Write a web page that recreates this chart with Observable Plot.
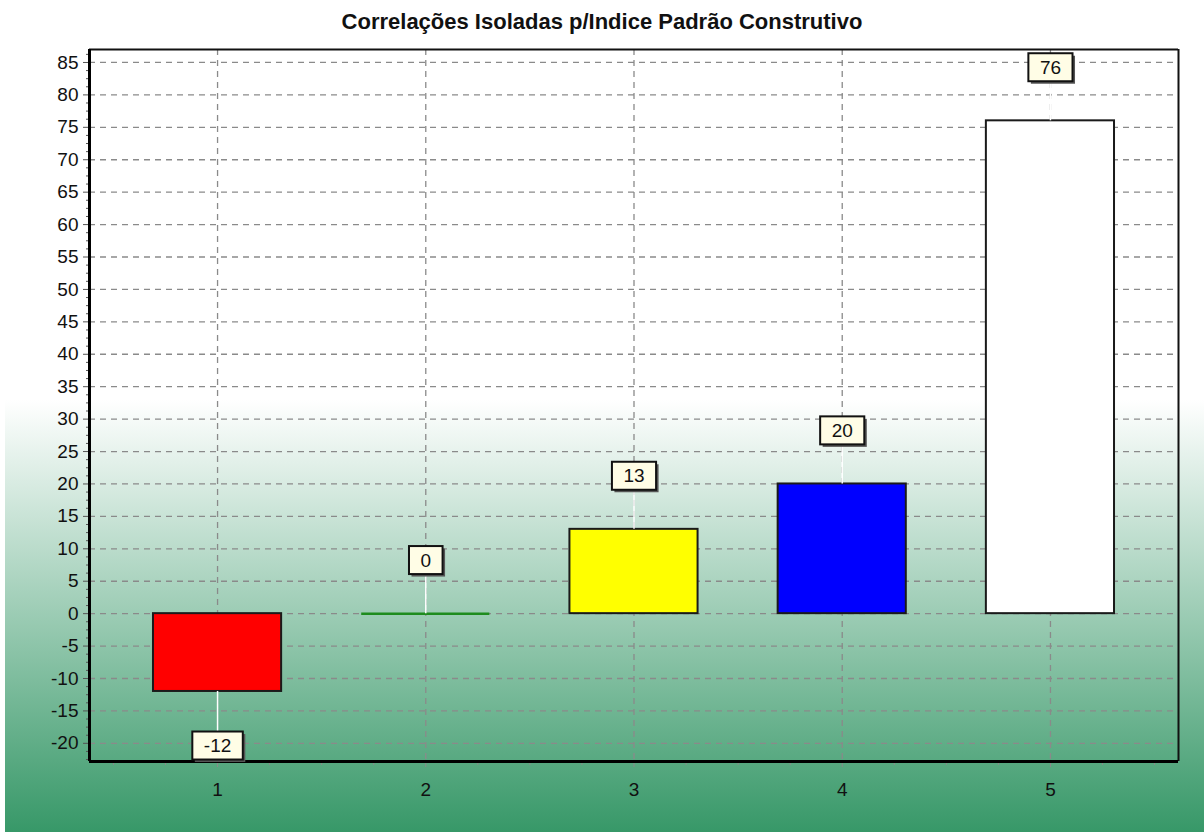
<!DOCTYPE html>
<html>
<head>
<meta charset="utf-8">
<script src="https://cdn.jsdelivr.net/npm/d3@7"></script>
<script src="https://cdn.jsdelivr.net/npm/@observablehq/plot@0.6"></script>
<style>
html, body { margin: 0; padding: 0; }
body {
  width: 1204px; height: 832px; overflow: hidden;
  font-family: "Liberation Sans", Arial, sans-serif;
  background:
    linear-gradient(to right, #ffffff 0px, #ffffff 5px, rgba(255,255,255,0) 5px),
    linear-gradient(to bottom, #ffffff 0px, #ffffff 400px, #379868 832px);
}
#title {
  height: 40px; line-height: 44px; text-align: center;
  font-weight: bold; font-size: 22px; color: #111; white-space: nowrap;
}
#chart svg { display: block; }
</style>
</head>
<body>
<div id="title">Correlações Isoladas p/Indice Padrão Construtivo</div>
<div id="chart"></div>
<script>
// ---- data ----
const categories = [1, 2, 3, 4, 5];
const values = [-12, 0, 13, 20, 76];
const colors = ["#ff0000", "#1e8c1e", "#ffff00", "#0000ff", "#ffffff"];
const yTicks = [-20, -15, -10, -5, 0, 5, 10, 15, 20, 25, 30, 35, 40, 45, 50, 55, 60, 65, 70, 75, 80, 85];
const xTickLabels = ["1", "2", "3", "4", "5"];

// ---- layout / style constants ----
const xDomain = [0.385, 5.615];
const yDomain = [-22.8, 87];
const halfBar = 0.3077;
const labelOffsetUp = 8.2;
const labelOffsetDown = 8.4;

const data = categories.map((c, i) => ({
  cat: c,
  value: values[i],
  color: colors[i],
  labelY: values[i] >= 0 ? values[i] + labelOffsetUp : values[i] - labelOffsetDown
}));

const minorY = d3.range(-22.5, 87, 1.25).filter(v => Math.abs(v % 5) > 1e-9);
const minorX = d3.range(0.5, 5.6, 0.25).filter(v => Math.abs(v - Math.round(v)) > 1e-9);

const gridStyle = { stroke: "#8a8a8a", strokeWidth: 1.3, strokeDasharray: "6,5" };

const plot = Plot.plot({
  width: 1204,
  height: 792,
  marginTop: 9,
  marginBottom: 71,
  marginLeft: 89,
  marginRight: 26,
  style: { background: "transparent", fontFamily: "Liberation Sans, Arial, sans-serif", fontSize: "19px", color: "#111" },
  x: { type: "linear", domain: xDomain },
  y: { domain: yDomain },
  color: { type: "identity" },
  marks: [
    // grid
    Plot.ruleY(yTicks, { y: d => d, ...gridStyle }),
    Plot.ruleX(categories, { x: d => d, ...gridStyle }),
    // bars
    Plot.rectY(data, {
      x1: d => d.cat - halfBar, x2: d => d.cat + halfBar,
      y1: 0, y2: "value",
      fill: "color", stroke: "#1a1a1a", strokeWidth: 2,
      filter: d => d.value !== 0
    }),
    // zero-height bar drawn as a line
    Plot.ruleY(data, {
      y: "value", x1: d => d.cat - halfBar, x2: d => d.cat + halfBar,
      stroke: "color", strokeWidth: 2.5,
      filter: d => d.value === 0
    }),
    // leader lines
    Plot.ruleX(data, { x: "cat", y1: "value", y2: "labelY", stroke: "white", strokeWidth: 1.5 }),
    // axes
    Plot.axisY(minorY, { tickSize: 3, tickFormat: () => "", stroke: "#555", label: null }),
    Plot.axisY(yTicks, { tickSize: 6, tickPadding: 5, stroke: "#555", label: null, fontSize: 19, tickFormat: d => String(d) }),
    Plot.axisX(minorX, { tickSize: 4, tickFormat: () => "", stroke: "#8a8a8a", label: null }),
    Plot.axisX(categories, { tickSize: 8, tickFormat: () => "", stroke: "#8a8a8a", strokeDasharray: "6,5", label: null }),
    Plot.axisX(categories, { tickSize: 0, tickPadding: 21, tickFormat: d => xTickLabels[categories.indexOf(d)], label: null, fontSize: 19 }),
    // frame
    Plot.ruleY([yDomain[1]], { stroke: "#111", strokeWidth: 2 }),
    Plot.ruleX([xDomain[1]], { stroke: "#111", strokeWidth: 2 }),
    Plot.ruleX([xDomain[0]], { stroke: "#000", strokeWidth: 3 }),
    Plot.ruleY([yDomain[0]], { stroke: "#000", strokeWidth: 3 }),
    // value labels
    Plot.text(data, { x: "cat", y: "labelY", text: d => String(d.value), fontSize: 19, fill: "#111" })
  ]
});

document.getElementById("chart").appendChild(plot);

// add boxes behind the value labels
const ns = "http://www.w3.org/2000/svg";
const labelGroup = Array.from(plot.querySelectorAll('g[aria-label="text"]')).pop();
if (labelGroup) {
  labelGroup.querySelectorAll("text").forEach(t => {
    const b = t.getBBox();
    const w = b.width + 23, h = 28;
    const cx = b.x + b.width / 2, cy = b.y + b.height / 2;
    const tr = t.getAttribute("transform");
    const shadow = document.createElementNS(ns, "rect");
    shadow.setAttribute("x", cx - w / 2 + 2.5);
    shadow.setAttribute("y", cy - h / 2 + 2.5);
    shadow.setAttribute("width", w);
    shadow.setAttribute("height", h);
    shadow.setAttribute("fill", "#555");
    shadow.setAttribute("stroke", "none");
    const box = document.createElementNS(ns, "rect");
    box.setAttribute("x", cx - w / 2);
    box.setAttribute("y", cy - h / 2);
    box.setAttribute("width", w);
    box.setAttribute("height", h);
    box.setAttribute("fill", "#fffde6");
    box.setAttribute("stroke", "#111");
    box.setAttribute("stroke-width", "2");
    if (tr) { shadow.setAttribute("transform", tr); box.setAttribute("transform", tr); }
    t.parentNode.insertBefore(shadow, t);
    t.parentNode.insertBefore(box, t);
  });
}
</script>
</body>
</html>
